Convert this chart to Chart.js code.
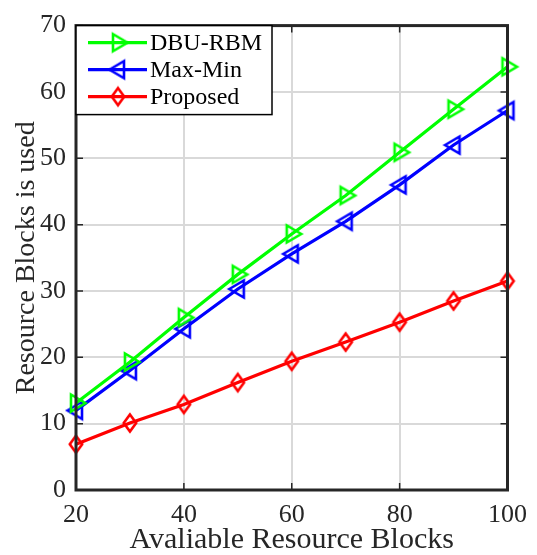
<!DOCTYPE html>
<html>
<head>
<meta charset="utf-8">
<script src="https://cdn.jsdelivr.net/npm/chart.js@4.4.1/dist/chart.umd.min.js"></script>
<style>
  html, body { margin: 0; padding: 0; background: #ffffff; }
  #wrap { width: 537px; height: 555px; }
</style>
</head>
<body>
<div id="wrap"><canvas id="c" width="537" height="555"></canvas></div>
<script>
// ---- data ----
const xValues = [20, 30, 40, 50, 60, 70, 80, 90, 100];
const dbuRbm  = [13.1, 19.3, 26.0, 32.5, 38.6, 44.4, 50.9, 57.4, 63.8];
const maxMin  = [12.0, 18.0, 24.3, 30.3, 35.6, 40.5, 46.0, 52.0, 57.2];
const proposed = [6.9, 10.1, 12.9, 16.2, 19.4, 22.3, 25.3, 28.5, 31.5];
const seriesNames = ['DBU-RBM', 'Max-Min', 'Proposed'];
const xTickValues = [20, 40, 60, 80, 100];
const yTickValues = [0, 10, 20, 30, 40, 50, 60, 70];
const xTitle = 'Avaliable Resource Blocks';
const yTitle = 'Resource Blocks is used';

const FONT = "'Liberation Serif', 'Times New Roman', serif";
const AXIS_COLOR = '#262626';

function makeMarker(kind, color) {
  const c = document.createElement('canvas');
  c.width = 26; c.height = 26;
  const g = c.getContext('2d');
  g.strokeStyle = color; g.lineWidth = 2.6; g.lineJoin = 'miter';
  const cx = 13, cy = 13;
  g.beginPath();
  if (kind === 'right') {
    g.moveTo(cx + 9.5, cy); g.lineTo(cx - 5, cy - 8.5); g.lineTo(cx - 5, cy + 8.5);
  } else if (kind === 'left') {
    g.moveTo(cx - 8.5, cy); g.lineTo(cx + 6, cy - 8.5); g.lineTo(cx + 6, cy + 8.5);
  } else {
    g.moveTo(cx, cy - 8.5); g.lineTo(cx + 6.2, cy); g.lineTo(cx, cy + 8.5); g.lineTo(cx - 6.2, cy);
  }
  g.closePath(); g.stroke();
  return c;
}

const colors = ['#00ff00', '#0000ff', '#ff0000'];
const markers = [makeMarker('right', colors[0]), makeMarker('left', colors[1]), makeMarker('diamond', colors[2])];
const allSeries = [dbuRbm, maxMin, proposed];

const datasets = allSeries.map((vals, i) => ({
  label: seriesNames[i],
  data: xValues.map((x, j) => ({ x: x, y: vals[j] })),
  borderColor: colors[i],
  backgroundColor: colors[i],
  borderWidth: 3.2,
  pointStyle: markers[i],
  pointRadius: 9,
  pointHoverRadius: 9,
  tension: 0,
  clip: false
}));

const framePlugin = {
  id: 'frame',
  afterDatasetsDraw(chart) {
    const { ctx, chartArea: a, scales } = chart;
    ctx.save();
    ctx.strokeStyle = AXIS_COLOR;
    ctx.lineWidth = 1.5;
    const tl = 7;
    ctx.beginPath();
    xTickValues.forEach(v => {
      const px = scales.x.getPixelForValue(v);
      ctx.moveTo(px, a.bottom); ctx.lineTo(px, a.bottom - tl);
      ctx.moveTo(px, a.top); ctx.lineTo(px, a.top + tl);
    });
    yTickValues.forEach(v => {
      const py = scales.y.getPixelForValue(v);
      ctx.moveTo(a.left, py); ctx.lineTo(a.left + tl, py);
      ctx.moveTo(a.right, py); ctx.lineTo(a.right - tl, py);
    });
    ctx.stroke();
    ctx.lineWidth = 3;
    ctx.strokeRect(a.left, a.top, a.right - a.left, a.bottom - a.top);

    // legend
    const lx = a.left, ly = a.top, lw = 196, lh = 89;
    ctx.fillStyle = '#ffffff';
    ctx.fillRect(lx, ly, lw, lh);
    ctx.strokeStyle = '#000000';
    ctx.lineWidth = 1.5;
    ctx.strokeRect(lx, ly, lw, lh);
    ctx.lineWidth = 3.2;
    ctx.font = '24px ' + FONT;
    ctx.textBaseline = 'middle';
    ctx.textAlign = 'left';
    seriesNames.forEach((name, i) => {
      const yy = ly + 17 + i * 27;
      ctx.strokeStyle = colors[i];
      ctx.beginPath(); ctx.moveTo(lx + 12, yy); ctx.lineTo(lx + 71, yy); ctx.stroke();
      const m = markers[i];
      ctx.drawImage(m, lx + 42 - m.width / 2, yy - m.height / 2);
      ctx.fillStyle = '#000000';
      ctx.fillText(name, lx + 74, yy + 1);
    });
    ctx.restore();
  }
};

new Chart(document.getElementById('c'), {
  type: 'line',
  data: { datasets: datasets },
  options: {
    responsive: false,
    animation: false,
    events: [],
    layout: { padding: { top: 18, right: 28, left: 0, bottom: 0 } },
    plugins: { legend: { display: false }, tooltip: { enabled: false } },
    scales: {
      x: {
        type: 'linear',
        min: 20, max: 100,
        afterBuildTicks(scale) { scale.ticks = xTickValues.map(v => ({ value: v })); },
        afterFit(scale) { scale.height = 65; },
        ticks: { font: { family: FONT, size: 26 }, color: AXIS_COLOR, padding: 10, maxRotation: 0, autoSkip: false },
        grid: { color: '#d9d9d9', lineWidth: 2, drawTicks: false },
        border: { display: false },
        title: { display: true, text: xTitle, font: { family: FONT, size: 30, lineHeight: 1.0 }, color: AXIS_COLOR, padding: { top: 0, bottom: 0 } }
      },
      y: {
        type: 'linear',
        min: 0, max: 70,
        afterBuildTicks(scale) { scale.ticks = yTickValues.map(v => ({ value: v })); },
        afterFit(scale) { scale.width = 76; },
        ticks: { font: { family: FONT, size: 26 }, color: AXIS_COLOR, padding: 10, autoSkip: false },
        grid: { color: '#d9d9d9', lineWidth: 2, drawTicks: false },
        border: { display: false },
        title: { display: true, text: yTitle, font: { family: FONT, size: 28, lineHeight: 1.0 }, color: AXIS_COLOR, padding: { top: 13, bottom: 0 } }
      }
    }
  },
  plugins: [framePlugin]
});
</script>
</body>
</html>
